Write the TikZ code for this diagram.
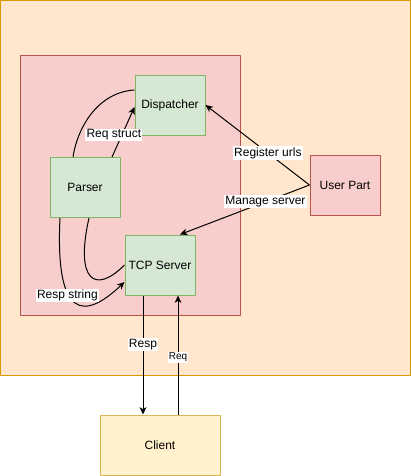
\documentclass[tikz,border=0pt]{standalone}
\usepackage{fontspec}
\setmainfont{Liberation Sans}
\usetikzlibrary{arrows.meta,calc}

\definecolor{outerfill}{HTML}{FFE6CC}
\definecolor{outerline}{HTML}{D79B00}
\definecolor{redfill}{HTML}{F8CECC}
\definecolor{redline}{HTML}{B85450}
\definecolor{greenfill}{HTML}{D5E8D4}
\definecolor{greenline}{HTML}{82B366}
\definecolor{clientfill}{HTML}{FFF2CC}
\definecolor{clientline}{HTML}{D6B656}

\begin{document}
\begin{tikzpicture}[
    x=0.75pt,y=-0.75pt,
    font=\fontsize{9pt}{10.8pt}\selectfont,
    line join=round,
    block/.style={draw, line width=0.75pt, inner sep=0pt,
        minimum width=52.5pt, minimum height=45pt},
    module/.style={block, fill=greenfill, draw=greenline},
    userblock/.style={block, fill=redfill, draw=redline},
    clientblock/.style={block, fill=clientfill, draw=clientline, minimum width=90pt},
    wire/.style={draw=black, line width=0.75pt},
    flow/.style={wire, -{Stealth[length=5.5pt,width=5pt,inset=1.5pt]}},
    lbl/.style={fill=white, inner sep=0.8pt}
]

\useasboundingbox (0,0) rectangle (411,476);

% containers
\draw[fill=outerfill, draw=outerline, line width=0.75pt] (0.5,0.5) rectangle (410,375);
\draw[fill=redfill, draw=redline, line width=0.75pt] (20,55) rectangle (240,315);

% blocks
\node[module] (disp) at (170,105) {Dispatcher};
\node[module] (parser) at (85,187.5) {Parser};
\node[module] (tcp) at (160,265) {TCP Server};
\node[userblock] (user) at (345,185) {User Part};
\node[clientblock] (client) at (160,445) {Client};

% parser <-> dispatcher
\draw[wire] ($(parser.north)+(-12,0)$) .. controls +(5,-32) and +(-35,2) .. ($(disp.west)+(0,-15)$);
\draw[flow] ($(parser.north)+(27,0)$) -- ($(disp.west)+(0,2)$)
    node[lbl, pos=0.44, xshift=-6pt] {Req struct};

% parser <-> tcp server
\draw[wire] ($(parser.south)+(4,0)$) .. controls +(-14,62) and +(-30,30) .. (tcp.west);
\draw[flow] ($(parser.south)+(-25,0)$) .. controls +(-5,102) and +(-40,38) .. ($(tcp.west)+(0,17)$)
    node[lbl, pos=0.5, xshift=-6pt, yshift=5pt] {Resp string};

% user part
\draw[flow] (user.west) -- (disp.east)
    node[lbl, pos=0.4] {Register urls};
\draw[flow] (user.west) -- ($(tcp.north)+(20,0)$)
    node[lbl, pos=0.34] {Manage server};

% client
\draw[flow] ($(tcp.south)+(-17,0)$) -- ($(client.north)+(-17,0)$)
    node[lbl, pos=0.41] {Resp};
\draw[flow] ($(client.north)+(18,0)$) -- ($(tcp.south)+(18,0)$)
    node[lbl, pos=0.48, font=\fontsize{7.5pt}{9pt}\selectfont] {Req};

\end{tikzpicture}
\end{document}
